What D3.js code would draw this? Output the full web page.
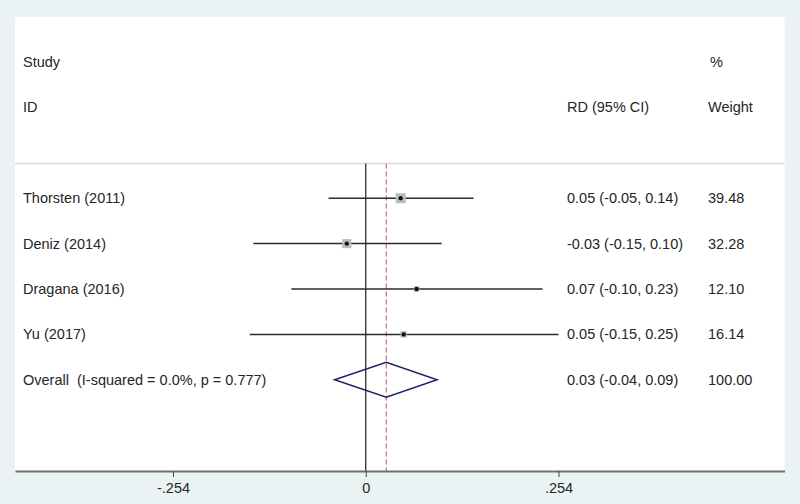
<!DOCTYPE html>
<html>
<head>
<meta charset="utf-8">
<script src="https://cdn.jsdelivr.net/npm/d3@7"></script>
<style>
  html, body { margin: 0; padding: 0; background: #eaf2f3; }
  svg text { font-family: "Liberation Sans", Arial, sans-serif; font-size: 14.5px; fill: #262626; white-space: pre; }
</style>
</head>
<body>
<div id="chart"></div>
<script>
// Forest plot data (risk difference)
const studies = ["Thorsten (2011)", "Deniz (2014)", "Dragana (2016)", "Yu (2017)"];
const estimates = [0.046, -0.025, 0.067, 0.050];
const lowerCI = [-0.049, -0.148, -0.098, -0.153];
const upperCI = [0.142, 0.100, 0.233, 0.254];
const ciLabels = ["0.05 (-0.05, 0.14)", "-0.03 (-0.15, 0.10)", "0.07 (-0.10, 0.23)", "0.05 (-0.15, 0.25)"];
const weights = ["39.48", "32.28", "12.10", "16.14"];

const overallLabel = "Overall  (I-squared = 0.0%, p = 0.777)";
const overall = { est: 0.027, lo: -0.041, hi: 0.094, ci: "0.03 (-0.04, 0.09)", weight: "100.00" };

const tickValues = [-0.254, 0, 0.254];
const tickLabels = ["-.254", "0", ".254"];

const width = 800, height = 504;
const panel = { left: 15, top: 17, right: 784.5, bottom: 471 };
const plotTop = 163.5;

const svg = d3.select("#chart")
    .append("svg")
    .attr("width", width)
    .attr("height", height);

svg.append("rect")
    .attr("width", width).attr("height", height)
    .attr("fill", "#eaf2f3");

svg.append("rect")
    .attr("x", panel.left).attr("y", panel.top)
    .attr("width", panel.right - panel.left)
    .attr("height", panel.bottom - panel.top)
    .attr("rx", 2)
    .attr("fill", "#ffffff");

// Scales: x for effect size, y for text/plot rows
const x = d3.scaleLinear()
    .domain([-0.4622, 0.5518])
    .range([panel.left, panel.right]);

const row = d3.scaleLinear()
    .domain([0, 7])
    .range([62, 379.8]);

// Separator under the header
svg.append("line")
    .attr("x1", panel.left).attr("x2", panel.right)
    .attr("y1", plotTop).attr("y2", plotTop)
    .attr("stroke", "#dadada")
    .attr("stroke-width", 1.5);

// Header text
const colStudy = 23, colCI = 567, colW = 708;
svg.append("text").attr("x", colStudy).attr("y", row(0)).attr("dy", "0.35em").text("Study");
svg.append("text").attr("x", colStudy).attr("y", row(1)).attr("dy", "0.35em").text("ID");
svg.append("text").attr("x", colCI).attr("y", row(1)).attr("dy", "0.35em").text("RD (95% CI)");
svg.append("text").attr("x", colW + 2).attr("y", row(0)).attr("dy", "0.35em").text("%");
svg.append("text").attr("x", colW).attr("y", row(1)).attr("dy", "0.35em").text("Weight");

// Null line and overall dashed line
svg.append("line")
    .attr("x1", x(0)).attr("x2", x(0))
    .attr("y1", plotTop).attr("y2", panel.bottom)
    .attr("stroke", "#1a1a1a")
    .attr("stroke-width", 1.2);

svg.append("line")
    .attr("x1", x(overall.est)).attr("x2", x(overall.est))
    .attr("y1", plotTop).attr("y2", panel.bottom)
    .attr("stroke", "#b57474")
    .attr("stroke-width", 1.2)
    .attr("stroke-dasharray", "5,3");

// Study rows
const data = studies.map((s, i) => ({
    name: s, est: estimates[i], lo: lowerCI[i], hi: upperCI[i],
    ci: ciLabels[i], weight: weights[i], r: i + 3
}));

const g = svg.selectAll("g.study")
    .data(data)
    .enter()
    .append("g")
    .attr("class", "study");

g.append("line")
    .attr("x1", d => x(d.lo)).attr("x2", d => x(d.hi))
    .attr("y1", d => row(d.r)).attr("y2", d => row(d.r))
    .attr("stroke", "#2b2b2b")
    .attr("stroke-width", 1.5);

g.append("rect")
    .attr("x", d => x(d.est) - 0.8 * Math.sqrt(+d.weight))
    .attr("y", d => row(d.r) - 0.8 * Math.sqrt(+d.weight))
    .attr("width", d => 1.6 * Math.sqrt(+d.weight))
    .attr("height", d => 1.6 * Math.sqrt(+d.weight))
    .attr("fill", "#bdbdbd");

g.append("circle")
    .attr("cx", d => x(d.est))
    .attr("cy", d => row(d.r))
    .attr("r", 2.2)
    .attr("fill", "#111");

g.append("text").attr("x", colStudy).attr("y", d => row(d.r)).attr("dy", "0.35em").text(d => d.name);
g.append("text").attr("x", colCI).attr("y", d => row(d.r)).attr("dy", "0.35em").text(d => d.ci);
g.append("text").attr("x", colW).attr("y", d => row(d.r)).attr("dy", "0.35em").text(d => d.weight);

// Overall diamond
const yo = row(7);
svg.append("path")
    .attr("d", `M${x(overall.lo)},${yo} L${x(overall.est)},${yo - 17.5} L${x(overall.hi)},${yo} L${x(overall.est)},${yo + 17.5} Z`)
    .attr("fill", "none")
    .attr("stroke", "#1f1f6e")
    .attr("stroke-width", 1.5);

svg.append("text").attr("x", colStudy).attr("y", yo).attr("dy", "0.35em").text(overallLabel);
svg.append("text").attr("x", colCI).attr("y", yo).attr("dy", "0.35em").text(overall.ci);
svg.append("text").attr("x", colW).attr("y", yo).attr("dy", "0.35em").text(overall.weight);

// Bottom axis
const axis = svg.append("g")
    .attr("transform", `translate(0,${panel.bottom})`)
    .call(d3.axisBottom(x)
        .tickValues(tickValues)
        .tickFormat((d, i) => tickLabels[i])
        .tickSizeInner(6)
        .tickSizeOuter(0)
        .tickPadding(6));

axis.select(".domain")
    .attr("stroke", "#707070")
    .attr("stroke-width", 2);
axis.selectAll(".tick line")
    .attr("stroke", "#444");
axis.selectAll(".tick text")
    .attr("font-family", null)
    .attr("font-size", null)
    .style("font-size", "14.5px")
    .attr("fill", "#262626");
</script>
</body>
</html>
